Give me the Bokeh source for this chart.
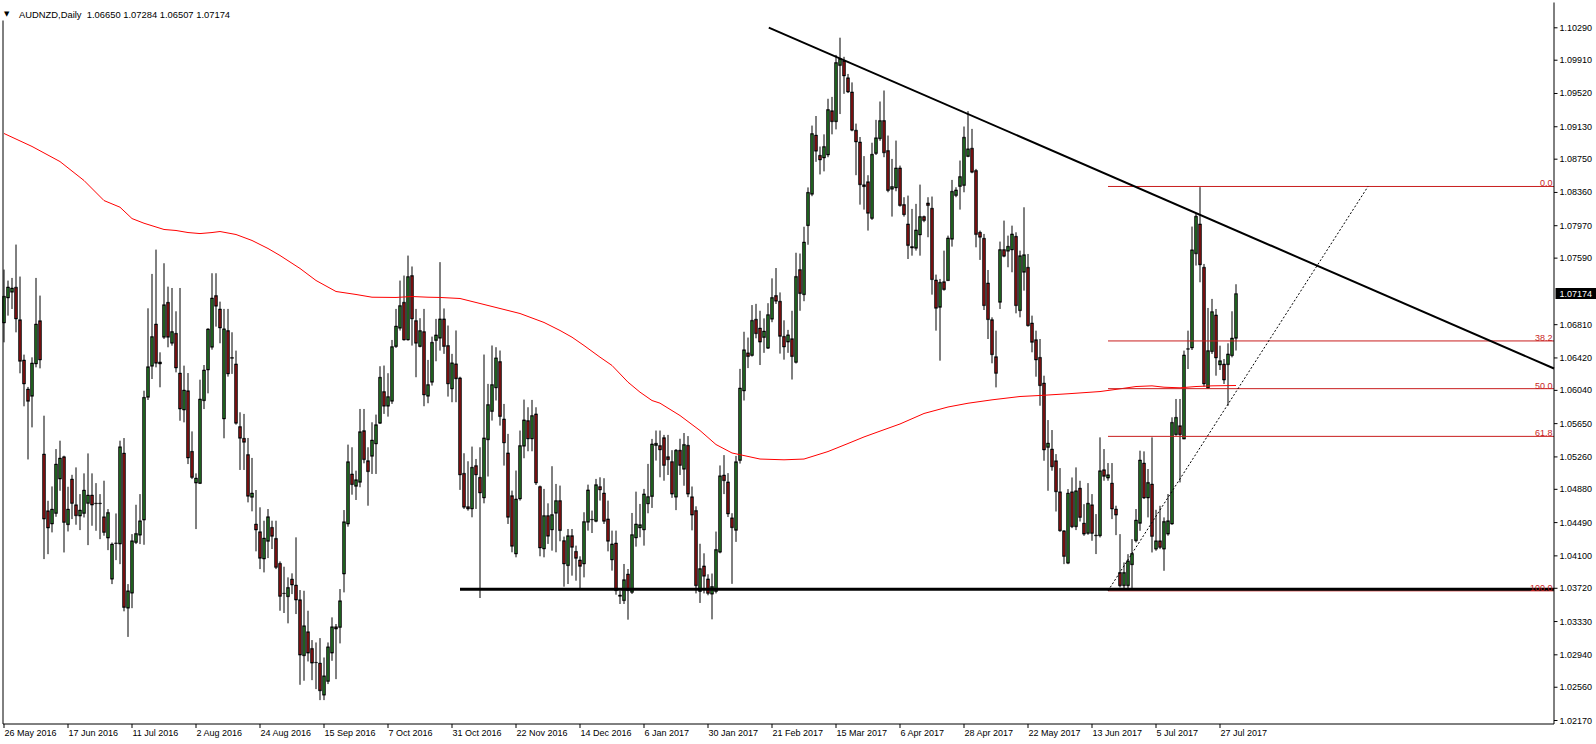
from bokeh.plotting import figure
from bokeh.models import ColumnDataSource, Range1d
from bokeh.embed import file_html
from bokeh.resources import INLINE
from bokeh.core.properties import value

# ---------------- data (AUDNZD daily, bar 0 = 26 May 2016) ----------------
opens = [
 1.06830,1.07123,1.07190,1.07250,1.06869,1.06396,1.06056,1.05970,1.06350,1.06857,
 1.05294,1.04629,1.04473,1.04597,1.05000,1.05262,1.04465,1.05000,1.04699,1.04566,
 1.04597,1.04715,1.04813,1.04712,1.04718,1.04558,1.04308,1.03827,1.04245,1.04238,
 1.05305,1.03487,1.03663,1.04257,1.04343,1.04519,1.05958,1.06322,1.06818,1.06373,
 1.06662,1.07072,1.06592,1.06709,1.06243,1.05809,1.06036,1.05325,1.04953,1.04949,
 1.05919,1.06279,1.06545,1.07151,1.06994,
 1.05705,1.06741,1.06425,1.06350,1.05615,1.05478,1.05287,1.04786,1.04473,1.04383,
 1.04063,1.04270,1.04434,1.04305,1.04012,1.03662,1.03621,1.03828,1.03758,1.03586,
 1.02929,1.03211,1.03015,1.02852,1.02843,1.02467,1.02628,1.02960,1.03269,1.03261,
 1.03887,1.04473,1.05060,1.04915,1.04962,1.05568,1.05216,1.05267,1.05412,1.05654,
 1.06026,1.05854,1.05912,1.06553,1.06768,1.07073,1.06631,1.07386,1.06858,1.06553,
 1.06729,1.05971,1.06135,1.06624,1.06651,
 1.06878,1.06566,1.06057,1.06351,1.06186,1.05068,1.04677,1.04650,1.05158,1.05021,
 1.04779,1.05460,1.05792,1.06069,1.06378,1.05705,1.05307,1.04806,1.04122,1.04767,
 1.05385,1.05686,1.05471,1.05764,1.04912,1.04181,1.04572,1.04404,1.04599,1.04748,
 1.04279,1.03985,1.04337,1.04153,1.04052,1.04005,1.04494,1.04522,1.04505,1.04912,
 1.04837,1.04533,1.04052,1.04251,1.03641,1.03575,1.03887,1.03672,1.04310,1.04427,
 1.04404,1.04709,1.04795,1.05393,1.05393,
 1.05486,1.05263,1.05205,1.04788,1.05339,1.05115,1.05397,1.04793,1.04632,1.03682,
 1.03982,1.03830,1.03651,1.03682,1.04143,1.05048,1.04967,1.04546,1.04399,1.05218,
 1.06033,1.06480,1.06449,1.06874,1.06771,1.06659,1.06534,1.06874,1.07152,1.07085,
 1.06673,1.06606,1.06646,1.06368,1.07456,1.07161,1.07971,1.08338,1.09032,1.08795,
 1.08764,1.08799,1.09319,1.09189,1.09847,1.09905,1.09704,1.09538,1.09090,1.08952,
 1.08450,1.08486,1.08056,1.08817,1.08988,
 1.09203,1.08851,1.08398,1.08413,1.08648,1.08218,1.07991,1.07725,1.07705,1.07862,
 1.08077,1.08237,1.08175,1.07334,1.07013,1.07314,1.07326,1.07811,1.08323,1.08429,
 1.08441,1.08781,1.08879,1.08617,1.07893,1.07823,1.07299,1.06869,1.06435,1.07072,
 1.07690,1.07671,1.07686,1.07846,1.06974,1.07424,1.07483,1.06830,1.06634,1.06427,
 1.06126,1.05371,1.05352,1.05215,1.04851,1.04394,1.04014,1.04851,1.04441,1.04894,
 1.04484,1.04363,1.04699,1.04343,1.04335,
 1.05110,1.05012,1.04953,1.04649,1.03906,1.03750,1.03750,1.03995,1.04277,1.04481,
 1.05188,1.04778,1.04942,1.04179,1.04277,1.04179,1.04355,1.04473,1.05520,1.05626,
 1.05469,1.06522,1.06537,1.07640,1.07991,1.07483,1.06064,1.06494,1.06924,1.06338,
 1.06349,1.06341,1.06447,1.06650]
highs = [
 1.07456,1.07327,1.07358,1.07749,1.07374,1.06459,1.06080,1.06427,1.07358,1.07151,
 1.05743,1.04746,1.04914,1.05352,1.05450,1.05274,1.04910,1.05050,1.05137,1.04824,
 1.05067,1.05301,1.05067,1.04953,1.04824,1.04981,1.04648,1.04257,1.04597,1.05450,
 1.05481,1.03769,1.04355,1.04699,1.04824,1.06036,1.07002,1.07405,1.07690,1.06486,
 1.07530,1.07256,1.07240,1.06967,1.07240,1.06330,1.06243,1.05559,1.05067,1.06165,
 1.06337,1.06768,1.07413,1.07413,1.07080,
 1.06995,1.06995,1.06721,1.06506,1.05783,1.05764,1.05482,1.05248,1.04872,1.04669,
 1.04512,1.04649,1.04512,1.04512,1.04035,1.03973,1.03848,1.03895,1.04317,1.03699,
 1.03691,1.03457,1.03113,1.03085,1.03136,1.02909,1.03085,1.03379,1.03301,1.03711,
 1.04637,1.05404,1.05373,1.05099,1.05822,1.05822,1.05373,1.05666,1.05756,1.06323,
 1.06331,1.06241,1.06631,1.06995,1.07327,1.07386,1.07620,1.07492,1.06995,1.06886,
 1.06995,1.06397,1.06670,1.06878,1.07543,
 1.07000,1.06800,1.06468,1.06742,1.06200,1.05303,1.05209,1.05381,1.05236,1.05373,
 1.06460,1.06116,1.06566,1.06546,1.06507,1.05881,1.05530,1.04865,1.05100,1.05569,
 1.05932,1.05842,1.05928,1.05842,1.04924,1.04885,1.04716,1.05151,1.04943,1.04924,
 1.04326,1.04415,1.04415,1.04220,1.04095,1.04611,1.04935,1.04631,1.05002,1.05021,
 1.05010,1.04748,1.04396,1.04396,1.03692,1.04005,1.03946,1.04603,1.04853,1.04709,
 1.04885,1.05178,1.05471,1.05569,1.05569,
 1.05518,1.05518,1.05339,1.05352,1.05473,1.05540,1.05504,1.04913,1.04681,1.04242,
 1.04130,1.03884,1.03893,1.04385,1.05160,1.05281,1.05070,1.04600,1.05272,1.06292,
 1.06727,1.06659,1.07040,1.07054,1.06973,1.06884,1.07062,1.07353,1.07474,1.07188,
 1.06861,1.06749,1.06973,1.07653,1.07644,1.07958,1.08419,1.09144,1.09256,1.08898,
 1.09041,1.09458,1.09480,1.09972,1.10174,1.09950,1.09749,1.09650,1.09167,1.09010,
 1.08786,1.08562,1.08943,1.09211,1.09426,
 1.09555,1.09027,1.08753,1.08968,1.08675,1.08304,1.08323,1.08167,1.08226,1.08452,
 1.08089,1.08304,1.08312,1.07397,1.07346,1.07678,1.07854,1.08507,1.08421,1.08734,
 1.09133,1.09313,1.09105,1.08636,1.07913,1.07874,1.07451,1.06896,1.06740,1.07784,
 1.08030,1.07854,1.07971,1.07893,1.07678,1.08186,1.07639,1.06916,1.06740,1.06642,
 1.06212,1.05692,1.05575,1.05293,1.05129,1.04400,1.04883,1.05019,1.05137,1.04980,
 1.04706,1.04953,1.04824,1.04590,1.05489,
 1.05352,1.05188,1.05188,1.04688,1.04355,1.04023,1.04120,1.04296,1.04649,1.05333,
 1.05325,1.05118,1.05489,1.04640,1.04687,1.04551,1.04825,1.05724,1.05939,1.05939,
 1.06506,1.06740,1.07960,1.08117,1.08422,1.07522,1.07006,1.07112,1.06994,1.06564,
 1.06408,1.06592,1.06967,1.07284]
lows = [
 1.06603,1.06916,1.06994,1.06720,1.06240,1.05853,1.05230,1.05606,1.06310,1.06298,
 1.04062,1.04120,1.04375,1.04558,1.04863,1.04140,1.04386,1.04531,1.04465,1.04402,
 1.04550,1.04226,1.04453,1.04394,1.04296,1.04336,1.04167,1.03769,1.04050,1.04003,
 1.03450,1.03150,1.03487,1.04238,1.04238,1.04230,1.05927,1.06173,1.06310,1.06076,
 1.06643,1.06545,1.06564,1.06251,1.05684,1.05665,1.05176,1.05000,1.04414,1.04942,
 1.05821,1.06005,1.06517,1.06787,1.06592,
 1.05478,1.06201,1.06233,1.05638,1.05107,1.05107,1.04727,1.04622,1.04153,1.03945,
 1.03906,1.04074,1.04180,1.03945,1.03457,1.03430,1.03309,1.03652,1.03418,1.02589,
 1.02636,1.02862,1.02643,1.02538,1.02409,1.02409,1.02597,1.02870,1.02655,1.03074,
 1.03672,1.04442,1.04817,1.04755,1.04904,1.05185,1.04688,1.05060,1.05060,1.05646,
 1.05764,1.05732,1.05881,1.06538,1.06741,1.06624,1.06624,1.06565,1.06194,1.06545,
 1.05854,1.05889,1.06096,1.06381,1.06506,
 1.06468,1.05967,1.05901,1.05901,1.04873,1.04650,1.04630,1.04552,1.04650,1.03606,
 1.04716,1.05030,1.05686,1.05921,1.05627,1.05158,1.04474,1.04142,1.04083,1.04748,
 1.05244,1.05326,1.05326,1.04931,1.04095,1.04083,1.04240,1.04161,1.04142,1.04271,
 1.03739,1.03770,1.03868,1.03809,1.03711,1.03848,1.04396,1.04368,1.04494,1.04748,
 1.04474,1.04153,1.03927,1.03645,1.03536,1.03536,1.03352,1.03653,1.04208,1.04318,
 1.04220,1.04599,1.04662,1.05217,1.05021,
 1.04981,1.05048,1.04780,1.04636,1.05048,1.04922,1.04788,1.04399,1.03660,1.03548,
 1.03660,1.03638,1.03356,1.03660,1.04130,1.04824,1.04555,1.03772,1.04264,1.05182,
 1.05921,1.06301,1.06436,1.06650,1.06337,1.06480,1.06525,1.06839,1.07053,1.06471,
 1.06400,1.06480,1.06167,1.06355,1.06973,1.07085,1.07747,1.08316,1.08719,1.08571,
 1.08607,1.08773,1.09041,1.09099,1.09279,1.09516,1.09525,1.09077,1.08562,1.08217,
 1.08159,1.07913,1.08038,1.08799,1.08965,
 1.08773,1.08362,1.08077,1.08374,1.08194,1.08077,1.07580,1.07619,1.07678,1.07619,
 1.08011,1.07835,1.07162,1.06740,1.06388,1.07209,1.07326,1.07725,1.08304,1.08159,
 1.08362,1.08773,1.08585,1.07717,1.07569,1.06982,1.06642,1.06357,1.06075,1.06994,
 1.07600,1.07483,1.07424,1.06943,1.06896,1.07209,1.06787,1.06486,1.06200,1.05860,
 1.05215,1.04863,1.05098,1.04620,1.04382,1.04003,1.04003,1.04425,1.04402,1.04503,
 1.04335,1.04347,1.04277,1.04121,1.04316,
 1.04981,1.04981,1.04531,1.04343,1.03730,1.03710,1.03710,1.03710,1.04257,1.04394,
 1.04766,1.04551,1.04140,1.04160,1.04179,1.03925,1.04336,1.04465,1.05509,1.04961,
 1.05469,1.06290,1.06513,1.07503,1.07307,1.06083,1.06056,1.06467,1.06212,1.06279,
 1.06115,1.05860,1.06427,1.06507]
closes = [
 1.07143,1.07252,1.07240,1.06877,1.06380,1.06115,1.05911,1.06361,1.06818,1.06396,
 1.04531,1.04426,1.04648,1.05176,1.05247,1.04492,1.04648,1.04715,1.04570,1.04637,
 1.04871,1.04813,1.04695,1.04718,1.04712,1.04375,1.04609,1.04238,1.04252,1.05379,
 1.03495,1.03690,1.04277,1.04363,1.04511,1.05958,1.06318,1.06670,1.06357,1.06350,
 1.07045,1.06662,1.06729,1.06302,1.05821,1.06044,1.05247,1.05020,1.05012,1.05939,
 1.06279,1.06760,1.07123,1.07026,1.06771,
 1.06761,1.06233,1.06415,1.05654,1.05478,1.05431,1.04798,1.04837,1.04403,1.04071,
 1.04309,1.04559,1.04329,1.03965,1.03625,1.03658,1.03730,1.03758,1.03582,1.02937,
 1.03281,1.02960,1.02843,1.02848,1.02518,1.02694,1.03034,1.03269,1.03242,1.03574,
 1.04500,1.05204,1.04935,1.04993,1.05556,1.05228,1.05087,1.05458,1.05638,1.06194,
 1.05854,1.05967,1.06553,1.06794,1.07034,1.06631,1.07374,1.06878,1.06592,1.06741,
 1.05986,1.06108,1.06604,1.06690,1.06878,
 1.06554,1.06116,1.06363,1.06175,1.05049,1.04670,1.04650,1.05139,1.05049,1.04837,
 1.05483,1.05874,1.06108,1.06421,1.05733,1.05424,1.04552,1.04212,1.04767,1.05393,
 1.05694,1.05471,1.05745,1.04955,1.04192,1.04572,1.04330,1.04584,1.04748,1.04396,
 1.04005,1.04337,1.04200,1.04071,1.03977,1.04502,1.04873,1.04528,1.04935,1.04873,
 1.04505,1.04271,1.04240,1.03692,1.03626,1.03821,1.03692,1.04349,1.04474,1.04466,
 1.04826,1.04795,1.05412,1.05420,1.05342,
 1.05160,1.05227,1.04824,1.05339,1.05160,1.05406,1.04824,1.04578,1.03750,1.03951,
 1.03861,1.03660,1.03741,1.04175,1.05039,1.04981,1.04591,1.04430,1.05204,1.06068,
 1.06516,1.06436,1.06861,1.06704,1.06606,1.06736,1.06928,1.07129,1.07085,1.06673,
 1.06548,1.06691,1.06436,1.07376,1.07174,1.07779,1.08361,1.09050,1.08844,1.08741,
 1.08898,1.09332,1.09189,1.09883,1.09928,1.09726,1.09538,1.09090,1.08952,1.08450,
 1.08428,1.08115,1.08808,1.09001,1.09202,
 1.08824,1.08382,1.08429,1.08648,1.08206,1.08100,1.07737,1.07709,1.07921,1.08077,
 1.08030,1.08206,1.07338,1.07002,1.07307,1.07221,1.07827,1.08374,1.08390,1.08546,
 1.09008,1.08871,1.08597,1.07866,1.07835,1.07033,1.06869,1.06458,1.06239,1.07690,
 1.07612,1.07729,1.07874,1.07033,1.07619,1.07631,1.06798,1.06603,1.06396,1.06095,
 1.05341,1.05422,1.05144,1.04851,1.04394,1.04093,1.04836,1.04441,1.04863,1.04550,
 1.04355,1.04718,1.04363,1.04335,1.05098,
 1.05032,1.05051,1.04649,1.04578,1.03750,1.03906,1.04042,1.04128,1.04520,1.05224,
 1.04778,1.04961,1.04328,1.04277,1.04199,1.04504,1.04512,1.05665,1.05724,1.05520,
 1.06455,1.06528,1.07687,1.08081,1.07511,1.06115,1.06506,1.06963,1.06420,1.06388,
 1.06161,1.06467,1.06654,1.07174]

# 200-period moving average read at selected bars
ma_bar = [0, 7, 14, 20, 25, 29, 32, 35, 40, 43, 46, 49, 52, 54, 58, 62, 66, 69, 74, 78,
          83, 88, 92, 98, 102, 106, 109, 114, 121, 129, 135, 139, 142, 145, 149, 152, 156,
          159, 162, 164, 169, 174, 178, 182, 189, 195, 200, 206, 211, 215, 219, 224, 230,
          236, 241, 247, 254, 259, 266, 274, 279, 283, 287, 290, 294, 298, 302, 308]
ma_val = [1.09051, 1.08899, 1.08722, 1.08500, 1.08265, 1.08187, 1.08054, 1.07999, 1.07926,
          1.07914, 1.07890, 1.07878, 1.07890, 1.07902, 1.07867, 1.07797, 1.07703, 1.07621,
          1.07469, 1.07328, 1.07199, 1.07164, 1.07132, 1.07129, 1.07140, 1.07132, 1.07129,
          1.07117, 1.07035, 1.06941, 1.06836, 1.06742, 1.06663, 1.06566, 1.06429, 1.06332,
          1.06136, 1.06019, 1.05921, 1.05890, 1.05745, 1.05569, 1.05405, 1.05306, 1.05235,
          1.05226, 1.05235, 1.05323, 1.05417, 1.05494, 1.05562, 1.05646, 1.05769, 1.05845,
          1.05889, 1.05929, 1.05968, 1.05980, 1.06000, 1.06026, 1.06058, 1.06085, 1.06093,
          1.06077, 1.06070, 1.06085, 1.06093, 1.06097]

date_bars = [0, 16, 32, 48, 64, 80, 96, 112, 128, 144, 160, 176, 192, 208, 224, 240, 256, 272, 288, 304]
date_labels = ["26 May 2016", "17 Jun 2016", "11 Jul 2016", "2 Aug 2016", "24 Aug 2016",
               "15 Sep 2016", "7 Oct 2016", "31 Oct 2016", "22 Nov 2016", "14 Dec 2016",
               "6 Jan 2017", "30 Jan 2017", "21 Feb 2017", "15 Mar 2017", "6 Apr 2017",
               "28 Apr 2017", "22 May 2017", "13 Jun 2017", "5 Jul 2017", "27 Jul 2017"]
price_ticks = [1.0217, 1.0256, 1.0294, 1.0333, 1.0372, 1.0410, 1.0449, 1.0488, 1.0526,
               1.0565, 1.0604, 1.0642, 1.0681, 1.0759, 1.0797, 1.0836, 1.0875, 1.0913,
               1.0952, 1.0991, 1.1029]

# drawn objects
fib_start_bar, fib_end_bar = 276.0, 341.0
fib_low, fib_high = 1.03690, 1.08430
fib_levels = [0.0, 38.2, 50.0, 61.8, 100.0]
fib_texts = ["0.0", "38.2", "50.0", "61.8", "100.0"]
support_start_bar, support_price = 114.0, 1.03708
trend_start = (191.2, 1.10293)
trend_end_price = 1.06296

symbol = "AUDNZD,Daily"

# ---------------- canvas / scales ----------------
W, H = 1596, 744
PX = 0.25          # bars per pixel
PY = 0.00011722    # price units per pixel
X_START = -0.875
X_END = X_START + W * PX
Y_END = 1.10610
Y_START = Y_END - H * PY


def px2x(px):
    return X_START + px * PX


def px2y(py):
    return Y_END - py * PY


LEFT = px2x(2.5)
RIGHT = px2x(1553.5)     # price-axis line / right edge of chart area
BOTTOM = px2y(723.5)     # time-axis line / bottom edge of chart area

GREEN = "#3cbe3c"
RED = "#e61e1e"
FIB = "#c81e1e"
FONT = value("Liberation Sans")
FS = "9px"

p = figure(width=W, height=H, x_range=Range1d(X_START, X_END), y_range=Range1d(Y_START, Y_END),
           output_backend="svg", toolbar_location=None,
           x_axis_location=None, y_axis_location=None,
           min_border_left=0, min_border_right=0, min_border_top=0, min_border_bottom=0,
           background_fill_color="white", border_fill_color="white")
p.grid.visible = False
p.outline_line_color = None

# ---- candles: black wick, black 3px body, 1px coloured core ----
n = len(closes)
tops = [max(o, c) for o, c in zip(opens, closes)]
bots = [min(o, c) for o, c in zip(opens, closes)]
src = ColumnDataSource(dict(x=list(range(n)), h=highs, l=lows, top=tops, bottom=bots))
p.segment(x0="x", y0="l", x1="x", y1="h", source=src, line_color="black", line_width=1)
p.vbar(x="x", top="top", bottom="bottom", width=0.75, fill_color="black",
       line_color="black", line_width=0.5, source=src)
core = [(i, t - PY, b + PY, "up" if c >= o else "down")
        for i, (t, b, o, c) in enumerate(zip(tops, bots, opens, closes)) if t - b > 2 * PY]
core_src = ColumnDataSource(dict(
    x=[r[0] for r in core], top=[r[1] for r in core], bottom=[r[2] for r in core],
    color=[GREEN if r[3] == "up" else RED for r in core]))
p.vbar(x="x", top="top", bottom="bottom", width=0.25, fill_color="color",
       line_color=None, source=core_src)

# ---- moving average ----
p.line(ma_bar, ma_val, line_color="#ff0000", line_width=1)

# ---- fibonacci retracement ----
fib_prices = [fib_high - lv / 100.0 * (fib_high - fib_low) for lv in fib_levels]
p.segment(x0=[fib_start_bar] * len(fib_prices), y0=fib_prices,
          x1=[RIGHT] * len(fib_prices), y1=fib_prices, line_color=FIB, line_width=1)
p.line([fib_start_bar, fib_end_bar], [fib_low, fib_high], line_color="black",
       line_width=1, line_dash="2 2")

# ---- support line ----
p.segment(x0=[support_start_bar], y0=[support_price], x1=[RIGHT], y1=[support_price],
          line_color="black", line_width=3)

p.text(x=[px2x(1552)] * len(fib_prices), y=[v + 3 * PY for v in fib_prices], text=fib_texts,
       text_align="right", text_baseline="alphabetic", text_color=FIB,
       text_font_size=FS, text_font=FONT)

# ---- descending trend line (to the right edge of the chart) ----
p.line([trend_start[0], RIGHT], [trend_start[1], trend_end_price],
       line_color="black", line_width=2)

# ---- chart frame ----
p.segment(x0=[LEFT, LEFT, RIGHT], y0=[px2y(20), BOTTOM, BOTTOM],
          x1=[LEFT, RIGHT, RIGHT], y1=[BOTTOM, BOTTOM, px2y(2)],
          line_color="black", line_width=1)

# ---- price axis (right) ----
p.segment(x0=[RIGHT] * len(price_ticks), y0=price_ticks,
          x1=[px2x(1557)] * len(price_ticks), y1=price_ticks, line_color="black", line_width=1)
p.text(x=[px2x(1559)] * len(price_ticks), y=price_ticks, text=[f"{t:.5f}" for t in price_ticks],
       text_align="left", text_baseline="middle", text_color="black",
       text_font_size=FS, text_font=FONT)

# current price tag
last = closes[-1]
p.quad(left=[px2x(1555)], right=[X_END], top=[last + 5.5 * PY], bottom=[last - 5.5 * PY],
       fill_color="black", line_color=None)
p.text(x=[px2x(1559)], y=[last], text=[f"{last:.5f}"], text_align="left",
       text_baseline="middle", text_color="white", text_font_size=FS, text_font=FONT)

# ---- time axis (bottom) ----
p.segment(x0=date_bars, y0=[BOTTOM] * len(date_bars), x1=date_bars,
          y1=[px2y(727.5)] * len(date_bars), line_color="black", line_width=1)
p.text(x=[b + 0.1 for b in date_bars], y=[px2y(727)] * len(date_bars), text=date_labels,
       text_align="left", text_baseline="top", text_color="black",
       text_font_size=FS, text_font=FONT)

# ---- header ----
hdr = symbol + "\u00a0\u00a0" + " ".join(
    f"{v:.5f}" for v in (opens[-1], highs[-1], lows[-1], closes[-1]))
p.text(x=[px2x(3.5)], y=[px2y(13.5)], text=["\u25bc"], text_align="left",
       text_baseline="alphabetic", text_color="black", text_font_size="7px",
       text_font=value("DejaVu Sans"))
p.text(x=[px2x(18.5)], y=[px2y(14)], text=[hdr], text_align="left",
       text_baseline="alphabetic", text_color="black", text_font_size="9.4px", text_font=FONT)

open("out.html", "w").write(file_html(p, INLINE))
